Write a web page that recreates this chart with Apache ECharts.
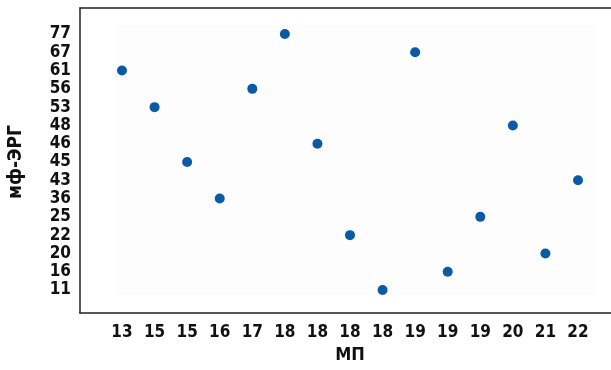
<!DOCTYPE html>
<html><head><meta charset="utf-8">
<script src="https://cdn.jsdelivr.net/npm/echarts@6/dist/echarts.min.js"></script>
<style>html,body{margin:0;padding:0;background:#fff}#c{width:611px;height:370px}</style>
</head><body><div id="c"></div>
<script>
const xCategories = ['13','15','15','16','17','18','18','18','18','19','19','19','20','21','22'];
const yCategories = ['11','16','20','22','25','36','43','45','46','48','53','56','61','67','77'];
const yValues = ['61','53','45','36','56','77','46','22','11','67','16','25','48','20','43'];
const xName = 'МП';
const yName = 'мф-ЭРГ';

const font = 'DejaVu Sans Condensed';
const frameLine = {show: true, lineStyle: {color: '#222', width: 1.5}};
const hidden = {axisTick: {show: false}, axisLabel: {show: false}, splitLine: {show: false}};
const chart = echarts.init(document.getElementById('c'));
chart.setOption({
  animation: false,
  backgroundColor: '#ffffff',
  grid: [
    {left: 122, right: 33, top: 34, bottom: 80, outerBoundsMode: 'none', containLabel: false},
    {left: 80, right: 0, top: 8, bottom: 57, outerBoundsMode: 'none', containLabel: false},
    {left: 115, right: 16, top: 25, bottom: 75, show: true, borderWidth: 0, backgroundColor: '#fdfdfd', outerBoundsMode: 'none'}
  ],
  xAxis: [
    {type: 'category', gridIndex: 0, data: xCategories, boundaryGap: false,
     axisLine: {show: false}, axisTick: {show: false}, splitLine: {show: false},
     axisLabel: {color: '#111', fontFamily: font, fontWeight: 'bold', fontSize: 17, margin: 34, interval: 0},
     name: xName, nameLocation: 'middle', nameGap: 56,
     nameTextStyle: {color: '#111', fontFamily: font, fontWeight: 'bold', fontSize: 18}},
    Object.assign({type: 'value', gridIndex: 1, position: 'bottom', axisLine: frameLine}, hidden),
    Object.assign({type: 'value', gridIndex: 1, position: 'top', axisLine: frameLine}, hidden),
    {type: 'value', gridIndex: 2, show: false}
  ],
  yAxis: [
    {type: 'category', gridIndex: 0, data: yCategories, boundaryGap: false,
     axisLine: {show: false}, axisTick: {show: false}, splitLine: {show: false},
     axisLabel: {color: '#111', fontFamily: font, fontWeight: 'bold', fontSize: 17, margin: 51, interval: 0, lineHeight: 14},
     name: yName, nameLocation: 'middle', nameGap: 96, nameRotate: 90,
     nameTextStyle: {color: '#111', fontFamily: font, fontWeight: 'bold', fontSize: 19}},
    Object.assign({type: 'value', gridIndex: 1, position: 'left', axisLine: frameLine}, hidden),
    {type: 'value', gridIndex: 2, show: false}
  ],
  series: [{
    type: 'scatter', xAxisIndex: 0, yAxisIndex: 0, z: 10,
    symbolSize: 10,
    itemStyle: {color: '#0b5aa5', opacity: 1},
    data: xCategories.map((c, i) => [i, yValues[i]])
  }]
});
</script></body></html>
